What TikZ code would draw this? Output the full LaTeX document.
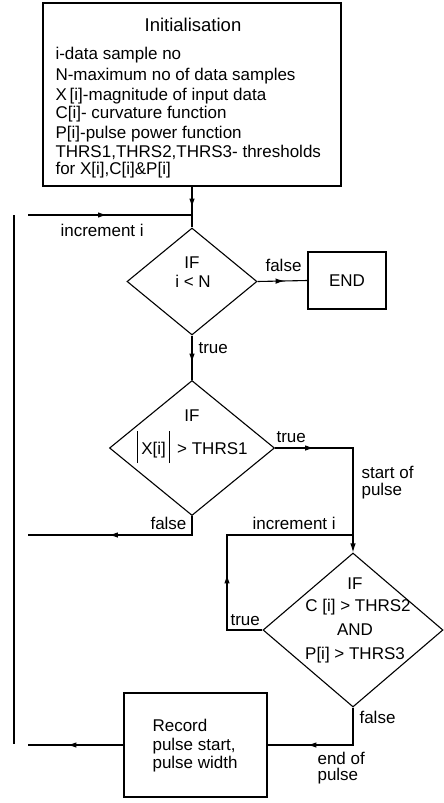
\documentclass[tikz,border=0pt]{standalone}
\usepackage{fontspec}
\setmainfont{Liberation Sans}
\usetikzlibrary{shapes.geometric,arrows.meta,decorations.markings}
\tikzset{
  box/.style={draw, rectangle, inner sep=0pt},
  dia/.style={draw, diamond, inner sep=0pt},
  lbl/.style={inner sep=0pt, font=\fontsize{17}{19.8}\selectfont},
  tip/.style={-{Latex[length=9pt,width=5.5pt]}},
  marrow/.style={postaction={decorate},decoration={markings,mark=at position #1 with {\arrow{Latex[length=9pt,width=5.5pt]}}}},
}
\begin{document}
\begin{tikzpicture}[x=1pt,y=-1pt,line width=1.1pt]
\useasboundingbox (0,0) rectangle (444,803);
% boxes
\node[box, minimum width=298pt, minimum height=183pt] (init) at (192,94.5) {};
\node[box, lbl, minimum width=78pt, minimum height=57pt] (end) at (347,280.5) {END};
\node[box, minimum width=143pt, minimum height=104pt] (rec) at (195.5,745) {};
% diamonds
\node[dia, minimum width=130pt, minimum height=107pt] (d1) at (192,281.5) {};
\node[dia, minimum width=165pt, minimum height=135pt] (d2) at (192,448) {};
\node[dia, minimum width=180pt, minimum height=154pt] (d3) at (353,630) {};
% init text
\node[lbl, anchor=base, font=\fontsize{18.5}{20}\selectfont] (title) at (193,31) {Initialisation};
\foreach \n/\yy/\t in {1/59/{i-data sample no},2/80/{N-maximum no of data samples},3/100/{X\,[i]-magnitude of input data},4/118/{C[i]- curvature function},5/138/{P[i]-pulse power function},6/157/{THRS1,THRS2,THRS3- thresholds},7/174/{for X[i],C[i]\&P[i]}}
  \node[lbl, anchor=base west] (v\n) at (55,\yy) {\t};
% coordinates
\coordinate (j1) at (192,215);
\coordinate (incL) at (28,215);
\coordinate (fL) at (28,535);
\coordinate (lpC) at (227,535);
\coordinate (j2) at (353,535);
\coordinate (recL) at (28,745);
\coordinate (vT) at (14,215);
\coordinate (vB) at (14,744);
% connectors
\draw[marrow=21pt] (init.south) -- (d1.north);
\draw[marrow=79pt] (incL) -- (j1);
\draw[marrow=27pt] (d1.east) -- (end.west);
\draw[marrow=27pt] (d1.south) -- (d2.north);
\draw[marrow=39pt, tip] (d2.east) -| (d3.north);
\draw[marrow=102pt] (d2.south) |- (fL);
\draw[marrow=91pt] (d3.west) -| (lpC) -- (j2);
\draw[marrow=83pt] (d3.south) |- (rec.east);
\draw[marrow=56pt] (rec.west) -- (recL);
\draw (vT) -- (vB);
% labels
\node[lbl, anchor=base west] (inc1) at (60,236) {increment i};
\node[lbl, anchor=base] (d1a) at (192,268) {IF};
\node[lbl, anchor=base] (d1b) at (193,287) {i < N};
\node[lbl, anchor=base west] (f1) at (265,271) {false};
\node[lbl, anchor=base west] (t1) at (198,353) {true};
\node[lbl, anchor=base] (d2a) at (192,421) {IF};
\node[lbl, anchor=base] (d2b) at (192.5,454) {\rule[-9pt]{1pt}{32pt}\,X[i]\,\rule[-9pt]{1pt}{32pt}\ \,> THRS1};
\node[lbl, anchor=base west] (t2) at (276,442) {true};
\node[lbl, anchor=base west] (sp1) at (361,478) {start of};
\node[lbl, anchor=base west] (sp2) at (361,495) {pulse};
\node[lbl, anchor=base east] (f2) at (187,529) {false};
\node[lbl, anchor=base west] (inc2) at (252,529) {increment i};
\node[lbl, anchor=base] (d3a) at (355,589) {IF};
\node[lbl, anchor=base] (d3b) at (358,611) {C [i] > THRS2};
\node[lbl, anchor=base] (d3c) at (355,635) {AND};
\node[lbl, anchor=base] (d3d) at (355,659) {P[i] > THRS3};
\node[lbl, anchor=base west] (t3) at (230,625) {true};
\node[lbl, anchor=base west] (f3) at (359,723) {false};
\node[lbl, anchor=base west] (ep1) at (317,764) {end of};
\node[lbl, anchor=base west] (ep2) at (317,780) {pulse};
\node[lbl, anchor=base west] (r1) at (152,731) {Record};
\node[lbl, anchor=base west] (r2) at (152,750) {pulse start,};
\node[lbl, anchor=base west] (r3) at (152,768) {pulse width};
\end{tikzpicture}
\end{document}
